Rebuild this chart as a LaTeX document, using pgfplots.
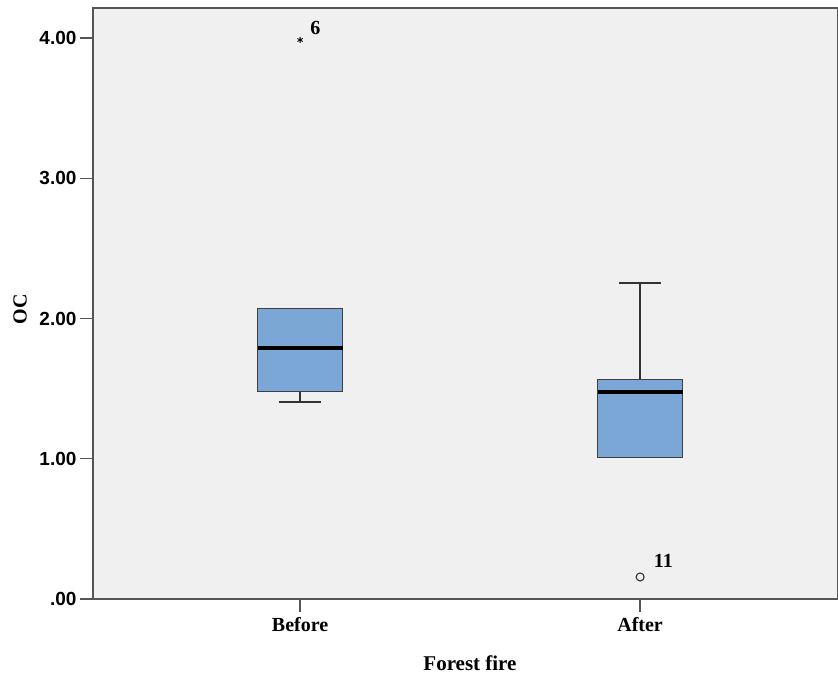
\documentclass[border=0pt]{standalone}
\usepackage{fontspec}
\setmainfont{Liberation Serif}
\setsansfont{Liberation Sans}
\usepackage{pgfplots}
\usepgfplotslibrary{statistics}
\pgfplotsset{compat=1.18}
\definecolor{bgray}{RGB}{240,240,240}
\definecolor{boxblue}{RGB}{122,167,213}
\definecolor{axgray}{RGB}{85,85,85}
\begin{document}
\begin{tikzpicture}
\begin{axis}[
  scale only axis,
  width=745pt, height=591pt,
  xmin=0.391, xmax=2.582,
  ymin=0, ymax=4.214,
  axis background/.style={fill=bgray},
  axis line style={axgray, line width=1.3pt},
  clip=false,
  tick pos=left,
  tick align=outside,
  major tick length=13pt,
  tick style={axgray, line width=1.3pt},
  xtick={1,2}, xticklabels={Before,After},
  ytick={0,1,2,3,4}, yticklabels={.00,1.00,2.00,3.00,4.00},
  x tick label style={font=\fontsize{20}{20}\selectfont\bfseries, yshift=-2pt},
  y tick label style={font=\fontsize{19}{19}\selectfont\sffamily\bfseries, xshift=0pt},
  boxplot/draw direction=y,
  boxplot/every box/.style={draw=black!75, line width=1pt, fill=boxblue},
  boxplot/every whisker/.style={black!80, line width=1.4pt},
]
\addplot[boxplot prepared={median=1.790, lower quartile=1.483, upper quartile=2.068,
  lower whisker=1.405, upper whisker=2.068, draw position=1,
  box extend=0.25, whisker extend=0.125,
  every median/.style={line width=3.6pt, black}}] coordinates {};
\addplot[boxplot prepared={median=1.476, lower quartile=1.012, upper quartile=1.562,
  lower whisker=1.012, upper whisker=2.253, draw position=2,
  box extend=0.25, whisker extend=0.125,
  every median/.style={line width=3.6pt, black}}] coordinates {};
\addplot[only marks, mark=asterisk, mark size=3pt, black, line width=0.9pt]
  coordinates {(1,3.986)};
\addplot[only marks, mark=o, mark size=4pt, black!80, line width=1.1pt]
  coordinates {(2,0.157)};
\node[font=\fontsize{20}{20}\selectfont\bfseries, anchor=south west, inner sep=0pt] at (axis cs:1.03,4.02) {6};
\node[font=\fontsize{20}{20}\selectfont\bfseries, anchor=south west, inner sep=0pt] at (axis cs:2.04,0.22) {11};
\node[font=\fontsize{20}{20}\selectfont\bfseries, rotate=90] at (rel axis cs:-0.098,0.49) {OC};
\node[font=\fontsize{21}{21}\selectfont\bfseries] at (rel axis cs:0.506,-0.108) {Forest fire};
\end{axis}
\pgfresetboundingbox
\useasboundingbox ([xshift=-93pt,yshift=-81pt]current axis.south west) rectangle ([yshift=8pt]current axis.north east);
\end{tikzpicture}
\end{document}
